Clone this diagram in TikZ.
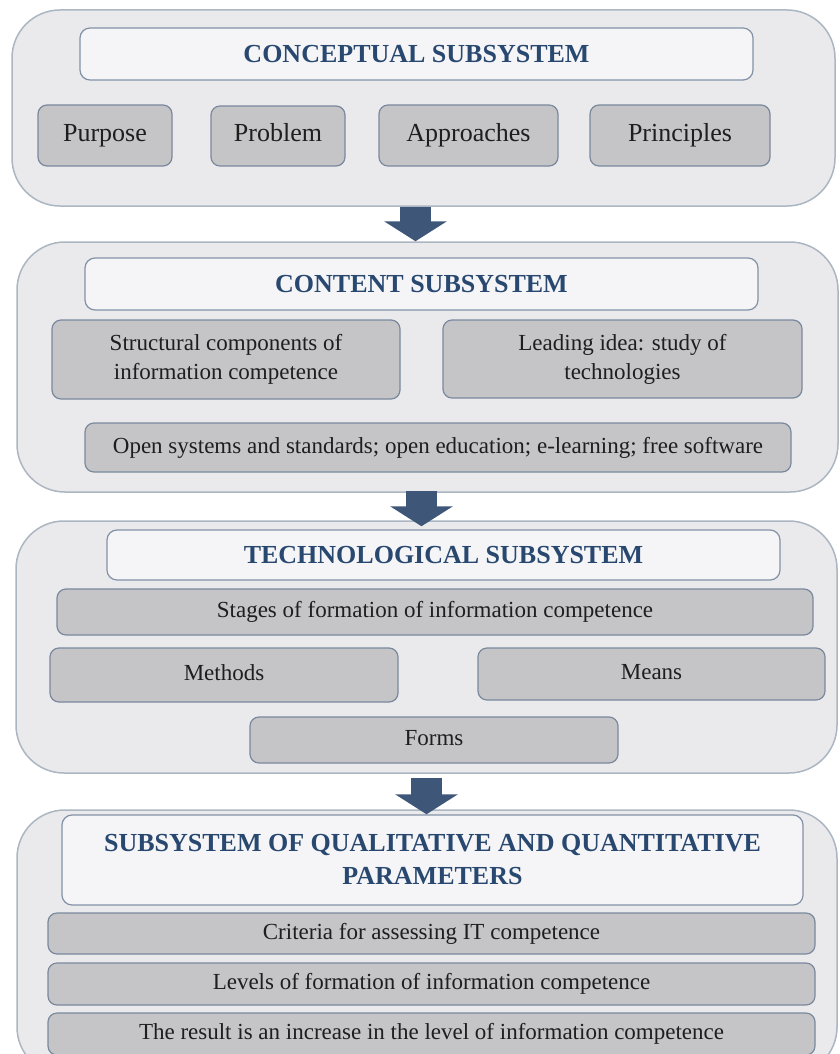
\documentclass[tikz,border=0pt]{standalone}
\usepackage{fontspec}
\setmainfont{Liberation Serif}
\usepackage{xcolor}
\usepackage{tikz}
\usetikzlibrary{arrows.meta, positioning}
\definecolor{panelfill}{RGB}{234,234,236}
\definecolor{panelline}{RGB}{172,182,194}
\definecolor{titlefill}{RGB}{245,245,247}
\definecolor{titleline}{RGB}{130,146,166}
\definecolor{titletext}{RGB}{40,72,112}
\definecolor{itemfill}{RGB}{197,197,199}
\definecolor{itemline}{RGB}{122,137,157}
\definecolor{itemtext}{RGB}{30,30,30}
\definecolor{arrowfill}{RGB}{62,86,120}

\begin{document}
\begin{tikzpicture}[x=1pt, y=-1pt,
    panel/.style={draw=panelline, line width=1.5pt, fill=panelfill, rounded corners=48pt, inner sep=0pt},
    ttl/.style={draw=titleline, line width=1.2pt, fill=titlefill, rounded corners=10pt, text=titletext,
        font=\fontsize{26}{33}\selectfont\bfseries, align=center, inner sep=0pt},
    item/.style={draw=itemline, line width=1.2pt, fill=itemfill, rounded corners=9pt, text=itemtext,
        font=\fontsize{23}{29}\selectfont, align=center, inner sep=0pt},
    lineitem/.style={item, text height=16pt, text depth=5pt},
    bigitem/.style={item, font=\fontsize{26}{30}\selectfont, text height=18pt, text depth=6pt},
    blockarrow/.style={draw=arrowfill, line width=31pt, -{Triangle[width=62pt,length=20pt]}}]
    \useasboundingbox (0,0) rectangle (839,1054);
    \clip (0,0) rectangle (839,1054);

    % conceptual subsystem
    \node[panel, minimum width=823pt, minimum height=196pt] (concpanel) at (423.5,108) {};
    \node[ttl, minimum width=673pt, minimum height=52pt] (concttl) at (416.5,54) {CONCEPTUAL SUBSYSTEM};
    \node[bigitem, minimum width=134pt, minimum height=61pt] (purpose) at (105,135.5) {Purpose};
    \node[bigitem, minimum width=134pt, minimum height=60pt] (problem) at (278,136) {Problem};
    \node[bigitem, minimum width=179pt, minimum height=61pt] (approaches) at (468.5,135.5) {Approaches};
    \node[bigitem, minimum width=180pt, minimum height=61pt] (principles) at (680,135.5) {Principles};

    % content subsystem
    \node[panel, minimum width=821pt, minimum height=250pt] (contpanel) at (427.5,367) {};
    \node[ttl, minimum width=673pt, minimum height=52pt] (contttl) at (421.5,284) {CONTENT SUBSYSTEM};
    \node[item, minimum width=348pt, minimum height=79pt] (structural) at (226,359.5)
        {Structural components of\\information competence};
    \node[item, minimum width=359pt, minimum height=78pt] (leading) at (622.5,359)
        {Leading idea: study of\\technologies};
    \node[lineitem, minimum width=706pt, minimum height=49pt] (opensys) at (438,447.5)
        {Open systems and standards; open education; e-learning; free software};

    % technological subsystem
    \node[panel, minimum width=821pt, minimum height=252pt] (techpanel) at (426.5,647) {};
    \node[ttl, minimum width=673pt, minimum height=50pt] (techttl) at (443.5,555) {TECHNOLOGICAL SUBSYSTEM};
    \node[lineitem, minimum width=756pt, minimum height=46pt] (stages) at (435,612)
        {Stages of formation of information competence};
    \node[lineitem, minimum width=348pt, minimum height=54pt] (methods) at (224,675) {Methods};
    \node[lineitem, minimum width=347pt, minimum height=52pt] (means) at (651.5,674) {Means};
    \node[lineitem, minimum width=368pt, minimum height=46pt] (forms) at (434,740) {Forms};

    % qualitative and quantitative parameters
    \node[panel, minimum width=820pt, minimum height=265pt] (parampanel) at (427,942.5) {};
    \node[ttl, minimum width=741pt, minimum height=90pt] (paramttl) at (432.5,860)
        {SUBSYSTEM OF QUALITATIVE AND QUANTITATIVE\\PARAMETERS};
    \node[lineitem, minimum width=767pt, minimum height=41pt] (criteria) at (431.5,933.5)
        {Criteria for assessing IT competence};
    \node[lineitem, minimum width=767pt, minimum height=42pt] (levels) at (431.5,984)
        {Levels of formation of information competence};
    \node[lineitem, minimum width=767pt, minimum height=42pt] (result) at (431.5,1034)
        {The result is an increase in the level of information competence};

    % arrows between subsystems
    \draw[blockarrow] ([xshift=-8pt]concpanel.south) -- ([xshift=-8pt]concpanel.south |- contpanel.north);
    \draw[blockarrow] ([yshift=2pt]contttl.center |- contpanel.south) -- ([yshift=-6pt]contttl.center |- techpanel.north);
    \draw[blockarrow] ([yshift=-4pt]techpanel.south) -- ([yshift=-5pt]techpanel.south |- parampanel.north);
\end{tikzpicture}
\end{document}
